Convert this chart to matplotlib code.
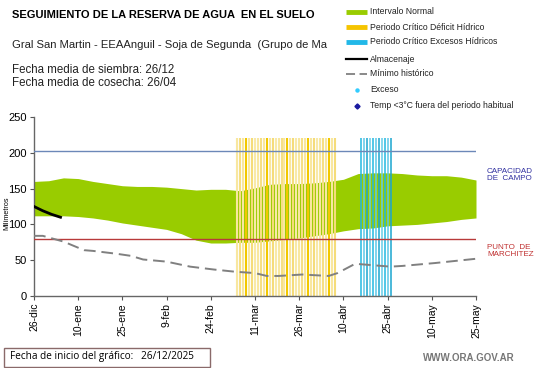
import matplotlib
matplotlib.use("Agg")
import matplotlib.pyplot as plt
from matplotlib.lines import Line2D
from matplotlib.patches import Rectangle
import numpy as np

plt.rcParams['font.family'] = ['Liberation Sans', 'DejaVu Sans']

# ---- data ----
tick_days = [0, 15, 30, 45, 60, 75, 90, 105, 120, 135, 150]
tick_labels = ['26-dic', '10-ene', '25-ene', '9-feb', '24-feb', '11-mar',
               '26-mar', '10-abr', '25-abr', '10-may', '25-may']

band_days = [0, 5, 10, 15, 20, 25, 30, 35, 40, 45, 50, 55, 60, 65, 70, 75,
             80, 85, 90, 95, 100, 105, 110, 115, 120, 125, 130, 135, 140, 145, 150]
band_upper = [160, 161, 165, 164, 160, 157, 154, 153, 153, 152, 150, 148, 149,
              149, 147, 151, 156, 157, 157, 158, 160, 163, 171, 172, 172, 171,
              169, 168, 168, 166, 162]
band_lower = [112, 112, 112, 111, 109, 106, 102, 99, 96, 93, 87, 78, 74, 74,
              75, 75, 77, 79, 81, 84, 87, 91, 94, 95, 98, 99, 100, 102, 104, 107, 109]

alm_days = [0, 3, 6, 9]
alm_vals = [125, 119, 114, 110]

min_days = [0, 3, 10, 17, 20, 28, 33, 37, 45, 53, 61, 68, 75, 79, 83, 91,
            100, 103, 109, 115, 121, 125, 136, 150]
min_vals = [84, 84, 76, 64, 63, 59, 56, 51, 48, 41, 37, 34, 32, 28, 28, 30,
            28, 32, 45, 43, 41, 42, 46, 52]

deficit_days = list(range(69, 103))
exceso_days = list(range(111, 122))
bar_top = 220

capacidad_campo = 202
punto_marchitez = 80

# ---- figure ----
fig = plt.figure(figsize=(5.41, 3.68), dpi=100)
ax = fig.add_axes([34/541, 1-296/368, (476-34)/541, (296-117)/368])

ax.fill_between(band_days, band_lower, band_upper, color='#99cc00', lw=0, zorder=1)

dcols = ['#f8e7a0', '#f6df85', '#f8e7a0', '#f2c800', '#f8e7a0', '#f5dc7a', '#f8e9a8']
for i, d in enumerate(deficit_days):
    ax.vlines(d, 0, bar_top, color=dcols[i % len(dcols)], lw=1.5, zorder=2)
ecols = ['#22b8e0', '#5cc8e8', '#1aa6d0', '#66cde8']
for i, d in enumerate(exceso_days):
    ax.vlines(d, 0, bar_top, color=ecols[i % len(ecols)], lw=1.1, zorder=2)

ax.axhline(capacidad_campo, color='#6c88b8', lw=1.0, zorder=3)
ax.axhline(punto_marchitez, color='#b83a3a', lw=1.0, zorder=3)

ax.plot(min_days, min_vals, color='#808080', lw=1.4, dashes=(6, 3), zorder=4)
ax.plot(alm_days, alm_vals, color='black', lw=2.0, zorder=5)

ax.set_xlim(0, 150)
ax.set_ylim(0, 250)
ax.set_xticks(tick_days)
ax.set_xticklabels(tick_labels, rotation=90, fontsize=7.5)
ax.set_yticks([0, 50, 100, 150, 200, 250])
ax.tick_params(axis='y', labelsize=8, length=3, color='#555555', pad=2)
ax.tick_params(axis='x', length=3, color='#555555', pad=2)
for s in ['top', 'right']:
    ax.spines[s].set_visible(False)
for s in ['left', 'bottom']:
    ax.spines[s].set_color('#666666')
    ax.spines[s].set_linewidth(1.0)

fig.text(7/541, 1-213/368, 'Milímetros', rotation=90, fontsize=5.2,
         ha='center', va='center')

# right labels
fig.text(487/541, 1-175/368, 'CAPACIDAD\nDE  CAMPO', color='#3030a0', fontsize=5.8,
         ha='left', va='center', linespacing=1.1)
fig.text(487/541, 1-251/368, 'PUNTO  DE\nMARCHITEZ', color='#c03030', fontsize=5.8,
         ha='left', va='center', linespacing=1.1)

# titles
fig.text(12/541, 1-15/368, 'SEGUIMIENTO DE LA RESERVA DE AGUA  EN EL SUELO',
         fontsize=8, fontweight='bold', ha='left', va='center')
fig.text(12/541, 1-45/368, 'Gral San Martin - EEAAnguil - Soja de Segunda  (Grupo de Ma',
         fontsize=8.1, ha='left', va='center', color='#222222')
fig.text(12/541, 1-70/368, 'Fecha media de siembra: 26/12', fontsize=8.3,
         ha='left', va='center', color='#222222')
fig.text(12/541, 1-83/368, 'Fecha media de cosecha: 26/04', fontsize=8.3,
         ha='left', va='center', color='#222222')

# legend
leg_items = [
    ('patch', '#99cc00', 'Intervalo Normal', 12),
    ('patch', '#f5c400', 'Periodo Crítico Déficit Hídrico', 27),
    ('patch', '#22b8e8', 'Periodo Crítico Excesos Hídricos', 42),
    ('line', 'black', 'Almacenaje', 59),
    ('dash', '#808080', 'Mínimo histórico', 74),
    ('dot', '#33ccff', 'Exceso', 90),
    ('diamond', '#1a1aa0', 'Temp <3°C fuera del periodo habitual', 106),
]
for kind, col, label, yp in leg_items:
    yf = 1 - yp/368
    x0, x1 = 346/541, 367/541
    if kind == 'patch':
        fig.add_artist(Line2D([x0, x1], [yf, yf], color=col, lw=3.5,
                              transform=fig.transFigure, solid_capstyle='butt'))
    elif kind == 'line':
        fig.add_artist(Line2D([x0, x1], [yf, yf], color=col, lw=1.6,
                              transform=fig.transFigure))
    elif kind == 'dash':
        fig.add_artist(Line2D([x0, x1], [yf, yf], color=col, lw=1.3,
                              dashes=(5, 2.5), transform=fig.transFigure))
    elif kind == 'dot':
        fig.add_artist(Line2D([357/541], [yf], color=col, marker='o', ms=2.2, lw=0,
                              transform=fig.transFigure))
    else:
        fig.add_artist(Line2D([357/541], [yf], color=col, marker='D', ms=2.6, lw=0,
                              transform=fig.transFigure))
    fig.text(370/541, yf, label, fontsize=6.2, ha='left', va='center', color='#222222')

# bottom box
fig.add_artist(Rectangle((4/541, 1-367/368), 206/541, 19/368, transform=fig.transFigure,
                         fill=False, edgecolor='#8a6a6a', lw=1.0))
fig.text(10/541, 1-357/368, 'Fecha de inicio del gráfico:   26/12/2025', fontsize=7.2,
         ha='left', va='center', family=['Open Sans', 'DejaVu Sans'])
fig.text(515/541, 1-358/368, 'WWW.ORA.GOV.AR', fontsize=7, fontweight='bold',
         ha='right', va='center', color='#777777')

fig.savefig('out.png', dpi=100)
